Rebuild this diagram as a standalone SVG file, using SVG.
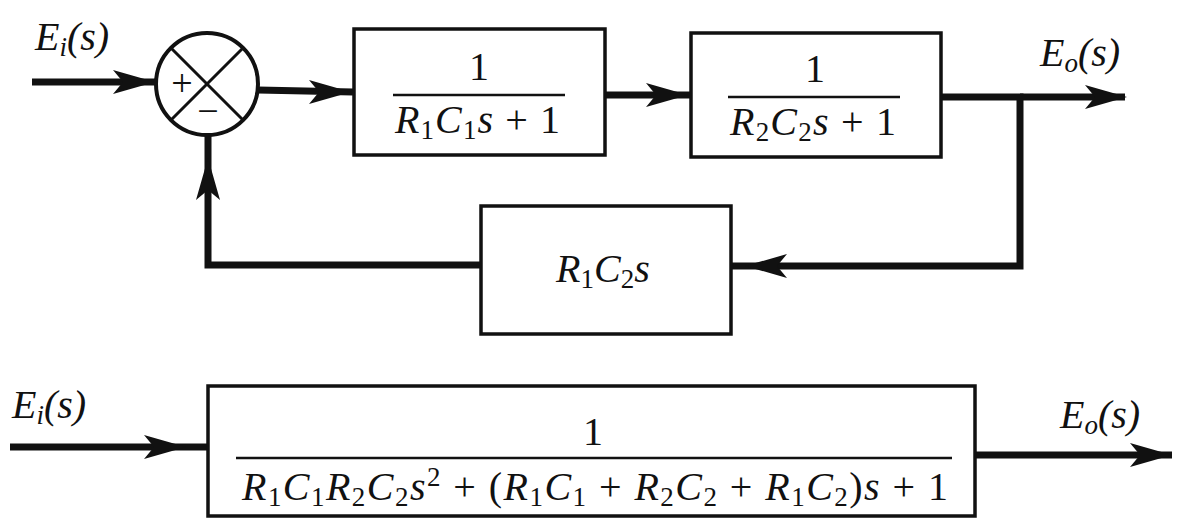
<svg xmlns="http://www.w3.org/2000/svg" width="1177" height="521" viewBox="0 0 1177 521">
<style>
text{font-family:"Liberation Serif","Times New Roman","DejaVu Serif",serif;fill:#111}
.box{fill:#fff;stroke:#111;stroke-width:3.5}
.ln{fill:none;stroke:#111;stroke-width:7;stroke-linejoin:miter}
.it{font-style:italic}
</style>
<defs>
<path id="ah" d="M0,0 L-42,-12 L-32,0 L-42,12 Z" fill="#111"/>
</defs>
<rect width="1177" height="521" fill="#fff"/>
<g id="connectors">
<line class="ln" x1="32" y1="82" x2="157" y2="82"/>
<use href="#ah" transform="translate(155,82)"/>
<line class="ln" x1="258" y1="90" x2="353" y2="92"/>
<use href="#ah" transform="translate(351,92)"/>
<line class="ln" x1="605" y1="95" x2="690" y2="95"/>
<use href="#ah" transform="translate(688,95)"/>
<polyline class="ln" points="940,97 1020,97 1020,266 730,266"/>
<line class="ln" x1="1020" y1="97" x2="1125" y2="97"/>
<use href="#ah" transform="translate(1127,97)"/>
<use href="#ah" transform="translate(745,266) rotate(180)"/>
<polyline class="ln" points="480,265 208,265 208,135"/>
<use href="#ah" transform="translate(208,158) rotate(-90)"/>
<line class="ln" x1="10" y1="447" x2="207" y2="447"/>
<use href="#ah" transform="translate(186,447)"/>
<line class="ln" x1="975" y1="455" x2="1172" y2="455"/>
<use href="#ah" transform="translate(1172,455)"/>
</g>
<g id="label-ei">
<text x="35" y="50" font-size="40" font-style="italic">E<tspan font-size="27" dy="6">i</tspan><tspan dy="-6">(s)</tspan></text>
</g>
<g id="label-eo">
<text x="1040" y="66" font-size="40" font-style="italic">E<tspan font-size="27" dy="6">o</tspan><tspan dy="-6">(s)</tspan></text>
</g>
<g id="sum">
<circle cx="207" cy="84" r="51" fill="#fff" stroke="#111" stroke-width="4"/>
<line x1="171" y1="48" x2="243" y2="120" stroke="#111" stroke-width="3"/>
<line x1="243" y1="48" x2="171" y2="120" stroke="#111" stroke-width="3"/>
<text x="182" y="96" text-anchor="middle" font-size="38">+</text>
<text x="208" y="124" text-anchor="middle" font-size="38">−</text>
</g>
<g id="g1">
<rect class="box" x="354" y="29" width="251" height="126"/>
<text x="479" y="80" text-anchor="middle" font-size="40">1</text>
<line x1="393" y1="95" x2="565" y2="95" stroke="#111" stroke-width="2.5"/>
<text x="395" y="133" font-size="40" textLength="165" lengthAdjust="spacing"><tspan class="it">R</tspan><tspan font-size="27" dy="6">1</tspan><tspan class="it" dy="-6">C</tspan><tspan font-size="27" dy="6">1</tspan><tspan class="it" dy="-6">s</tspan> + 1</text>
</g>
<g id="g2">
<rect class="box" x="691" y="33" width="250" height="124"/>
<text x="815" y="82" text-anchor="middle" font-size="40">1</text>
<line x1="728" y1="97" x2="900" y2="97" stroke="#111" stroke-width="2.5"/>
<text x="730" y="135" font-size="40" textLength="166" lengthAdjust="spacing"><tspan class="it">R</tspan><tspan font-size="27" dy="6">2</tspan><tspan class="it" dy="-6">C</tspan><tspan font-size="27" dy="6">2</tspan><tspan class="it" dy="-6">s</tspan> + 1</text>
</g>
<g id="h">
<rect class="box" x="481" y="206" width="250" height="128"/>
<text x="556" y="282" font-size="40"><tspan class="it">R</tspan><tspan font-size="27" dy="6">1</tspan><tspan class="it" dy="-6">C</tspan><tspan font-size="27" dy="6">2</tspan><tspan class="it" dy="-6">s</tspan></text>
</g>
<g id="label-ei2">
<text x="12" y="418" font-size="40" font-style="italic">E<tspan font-size="27" dy="6">i</tspan><tspan dy="-6">(s)</tspan></text>
</g>
<g id="label-eo2">
<text x="1060" y="428" font-size="40" font-style="italic">E<tspan font-size="27" dy="6">o</tspan><tspan dy="-6">(s)</tspan></text>
</g>
<g id="closed">
<rect class="box" x="208" y="386" width="767" height="130"/>
<text x="593" y="445" text-anchor="middle" font-size="40">1</text>
<line x1="236" y1="458" x2="952" y2="458" stroke="#111" stroke-width="2.5"/>
<text x="242" y="500" font-size="40" textLength="706" lengthAdjust="spacing"><tspan class="it">R</tspan><tspan font-size="27" dy="6">1</tspan><tspan class="it" dy="-6">C</tspan><tspan font-size="27" dy="6">1</tspan><tspan class="it" dy="-6">R</tspan><tspan font-size="27" dy="6">2</tspan><tspan class="it" dy="-6">C</tspan><tspan font-size="27" dy="6">2</tspan><tspan class="it" dy="-6">s</tspan><tspan font-size="27" dy="-14">2</tspan><tspan dy="14"> + (</tspan><tspan class="it">R</tspan><tspan font-size="27" dy="6">1</tspan><tspan class="it" dy="-6">C</tspan><tspan font-size="27" dy="6">1</tspan><tspan dy="-6"> + </tspan><tspan class="it">R</tspan><tspan font-size="27" dy="6">2</tspan><tspan class="it" dy="-6">C</tspan><tspan font-size="27" dy="6">2</tspan><tspan dy="-6"> + </tspan><tspan class="it">R</tspan><tspan font-size="27" dy="6">1</tspan><tspan class="it" dy="-6">C</tspan><tspan font-size="27" dy="6">2</tspan><tspan dy="-6">)</tspan><tspan class="it">s</tspan> + 1</text>
</g>
</svg>
